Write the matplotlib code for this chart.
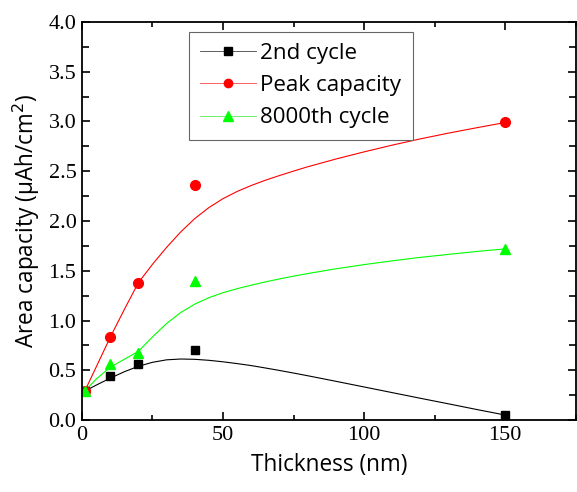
import matplotlib.pyplot as plt
from matplotlib.ticker import MultipleLocator

plt.rcParams["font.family"] = ["Liberation Serif", "DejaVu Serif"]

# measured points
thickness = [1, 10, 20, 40, 150]
cycle_2nd = [0.29, 0.44, 0.56, 0.70, 0.05]
peak_cap = [0.29, 0.83, 1.38, 2.36, 2.99]
cycle_8000 = [0.29, 0.56, 0.67, 1.40, 1.72]

# fitted curves
fit_x = [1, 5, 10, 15, 20, 25, 30, 35, 40, 45, 50, 55, 60, 65, 70, 75, 80,
         90, 100, 110, 120, 130, 140, 150]
fit_2nd = [0.29, 0.35, 0.42, 0.485, 0.54, 0.58, 0.605, 0.613, 0.61, 0.60, 0.585, 0.567,
           0.547, 0.523, 0.498, 0.472, 0.445, 0.389, 0.332, 0.275, 0.218, 0.162, 0.105, 0.05]
fit_peak = [0.29, 0.53, 0.83, 1.11, 1.38, 1.565, 1.735, 1.89, 2.025, 2.135, 2.225, 2.297,
            2.357, 2.41, 2.457, 2.502, 2.545, 2.623, 2.695, 2.763, 2.826, 2.884, 2.938, 2.99]
fit_8000 = [0.29, 0.41, 0.53, 0.61, 0.69, 0.835, 0.97, 1.08, 1.165, 1.23, 1.28, 1.32,
            1.355, 1.388, 1.418, 1.446, 1.472, 1.52, 1.562, 1.60, 1.635, 1.665, 1.694, 1.72]

labels = ["2nd cycle", "Peak capacity", "8000th cycle"]

fig = plt.figure(figsize=(5.77, 4.92), dpi=100)
ax = fig.add_axes([0.142, 0.1463, 0.856, 0.809])

ax.plot(fit_x, fit_2nd, color="black", lw=0.8)
ax.plot(fit_x, fit_peak, color="#ff0000", lw=0.8)
ax.plot(fit_x, fit_8000, color="#00ff00", lw=0.8)
ax.plot(thickness, cycle_2nd, "s", color="black", ms=6.3, ls="none")
ax.plot(thickness, peak_cap, "o", color="#ff0000", ms=7, ls="none")
ax.plot(thickness, cycle_8000, "^", color="#00ff00", ms=7.5, ls="none")

# legend handles: line with marker in the middle
h1, = ax.plot([], [], color="#444444", lw=0.6, marker="s", ms=5.5, mfc="black", mec="black")
h2, = ax.plot([], [], color="#ff4444", lw=0.6, marker="o", ms=6, mfc="#ff0000", mec="#ff0000")
h3, = ax.plot([], [], color="#55ee55", lw=0.6, marker="^", ms=6.5, mfc="#00ff00", mec="#00ff00")
leg = ax.legend([h1, h2, h3], labels, loc="upper left", bbox_to_anchor=(0.2166, 0.975),
                prop={"family": "Open Sans", "size": 16.1}, handlelength=2.5,
                handletextpad=0.2, labelspacing=0.5, borderpad=0.5,
                fancybox=False, framealpha=1, borderaxespad=0)
leg.get_frame().set_edgecolor("#666666")
leg.get_frame().set_linewidth(0.8)

ax.set_xlim(0, 175)
ax.set_ylim(0, 4.0)
ax.xaxis.set_major_locator(MultipleLocator(50))
ax.xaxis.set_minor_locator(MultipleLocator(25))
ax.yaxis.set_major_locator(MultipleLocator(0.5))
ax.yaxis.set_minor_locator(MultipleLocator(0.25))
ax.set_yticks([0, 0.5, 1.0, 1.5, 2.0, 2.5, 3.0, 3.5, 4.0])
ax.set_yticklabels(["0.0", "0.5", "1.0", "1.5", "2.0", "2.5", "3.0", "3.5", "4.0"])
ax.tick_params(which="both", direction="in", top=True, right=True, width=1.2)
ax.tick_params(which="major", length=5.5, labelsize=16, pad=4)
ax.tick_params(which="minor", length=3.5)
ax.tick_params(axis="y", which="minor", length=5)
for s in ax.spines.values():
    s.set_linewidth(1.3)

ax.set_xlabel("Thickness (nm)", family="Open Sans", fontsize=16.3, labelpad=6)
ax.set_ylabel("Area capacity (μAh/cm$^2$)", family="Open Sans", fontsize=16.3, labelpad=5)

fig.savefig("out.png", dpi=100)
